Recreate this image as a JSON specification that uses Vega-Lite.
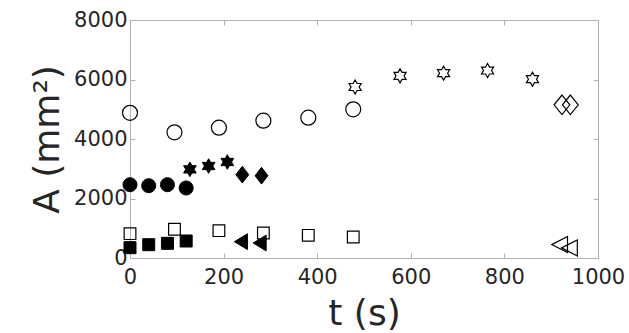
{
  "$schema": "https://vega.github.io/schema/vega-lite/v6.json",
  "width": 468,
  "height": 238,
  "autosize": "none",
  "padding": {"left": 130, "top": 20, "right": 31, "bottom": 75},
  "background": "white",
  "config": {
    "view": {"stroke": null},
    "font": "DejaVu Sans",
    "axis": {
      "grid": false,
      "domainColor": "#b0b0b0",
      "tickColor": "#b0b0b0",
      "tickSize": -5,
      "labelFlush": false,
      "labelOverlap": false,
      "labelColor": "#262626",
      "labelFontSize": 21,
      "labelFont": "DejaVu Sans",
      "titleColor": "#262626",
      "titleFont": "DejaVu Sans",
      "titleFontSize": 36,
      "titleFontWeight": "normal"
    }
  },
  "data": {
    "values": [
      {"t": 0, "A": 4880, "shape": "circle", "fill": "open"},
      {"t": 95, "A": 4225, "shape": "circle", "fill": "open"},
      {"t": 190, "A": 4380, "shape": "circle", "fill": "open"},
      {"t": 285, "A": 4615, "shape": "circle", "fill": "open"},
      {"t": 381, "A": 4717, "shape": "circle", "fill": "open"},
      {"t": 477, "A": 4997, "shape": "circle", "fill": "open"},
      {"t": 481, "A": 5748, "shape": "hexagram", "fill": "open"},
      {"t": 577, "A": 6123, "shape": "hexagram", "fill": "open"},
      {"t": 670, "A": 6212, "shape": "hexagram", "fill": "open"},
      {"t": 764, "A": 6302, "shape": "hexagram", "fill": "open"},
      {"t": 860, "A": 6010, "shape": "hexagram", "fill": "open"},
      {"t": 923, "A": 5150, "shape": "diamond", "fill": "open"},
      {"t": 941, "A": 5150, "shape": "diamond", "fill": "open"},
      {"t": 918, "A": 450, "shape": "triangle", "fill": "open"},
      {"t": 939, "A": 340, "shape": "triangle", "fill": "open"},
      {"t": 0, "A": 818, "shape": "square", "fill": "open"},
      {"t": 95, "A": 964, "shape": "square", "fill": "open"},
      {"t": 190, "A": 919, "shape": "square", "fill": "open"},
      {"t": 285, "A": 840, "shape": "square", "fill": "open"},
      {"t": 381, "A": 762, "shape": "square", "fill": "open"},
      {"t": 477, "A": 706, "shape": "square", "fill": "open"},
      {"t": 0, "A": 2465, "shape": "circle", "fill": "filled"},
      {"t": 40, "A": 2431, "shape": "circle", "fill": "filled"},
      {"t": 80, "A": 2465, "shape": "circle", "fill": "filled"},
      {"t": 120, "A": 2353, "shape": "circle", "fill": "filled"},
      {"t": 128, "A": 2980, "shape": "hexagram", "fill": "filled"},
      {"t": 168, "A": 3092, "shape": "hexagram", "fill": "filled"},
      {"t": 208, "A": 3227, "shape": "hexagram", "fill": "filled"},
      {"t": 240, "A": 2801, "shape": "diamond", "fill": "filled"},
      {"t": 281, "A": 2767, "shape": "diamond", "fill": "filled"},
      {"t": 0, "A": 347, "shape": "square", "fill": "filled"},
      {"t": 40, "A": 448, "shape": "square", "fill": "filled"},
      {"t": 80, "A": 493, "shape": "square", "fill": "filled"},
      {"t": 120, "A": 571, "shape": "square", "fill": "filled"},
      {"t": 237, "A": 549, "shape": "triangle", "fill": "filled"},
      {"t": 277, "A": 504, "shape": "triangle", "fill": "filled"}
    ]
  },
  "layer": [
    {
      "transform": [{"filter": "datum.fill === 'filled'"}],
      "mark": {"type": "point", "filled": true, "color": "black", "stroke": "black", "strokeWidth": 1, "opacity": 1, "size": 225, "clip": false},
      "encoding": {
        "x": {"field": "t", "type": "quantitative", "scale": {"domain": [0, 1000], "nice": false, "zero": false},
              "axis": {"orient": "bottom", "values": [0, 200, 400, 600, 800, 1000], "format": "d", "title": "t (s)", "labelPadding": 13, "titlePadding": 9}},
        "y": {"field": "A", "type": "quantitative", "scale": {"domain": [0, 8000], "nice": false, "zero": false},
              "axis": {"orient": "left", "values": [0, 2000, 4000, 6000, 8000], "format": "d", "title": "A (mm²)", "labelPadding": 8, "titlePadding": 7}},
        "shape": {"field": "shape", "type": "nominal", "legend": null,
                  "scale": {"domain": ["circle", "square", "hexagram", "diamond", "triangle"],
                            "range": ["M-0.93,0A0.93,0.93 0 1,0 0.93,0A0.93,0.93 0 1,0 -0.93,0Z",
                                      "M-0.8,-0.8L0.8,-0.8L0.8,0.8L-0.8,0.8Z",
                                      "M0,-0.97L0.28,-0.485L0.84,-0.485L0.56,0L0.84,0.485L0.28,0.485L0,0.97L-0.28,0.485L-0.84,0.485L-0.56,0L-0.84,-0.485L-0.28,-0.485Z",
                                      "M0,-1.12L0.86,0L0,1.12L-0.86,0Z",
                                      "M-0.87,0L0.87,-1.05L0.87,1.05Z"]}}
      }
    },
    {
      "transform": [{"filter": "datum.fill === 'open'"}],
      "mark": {"type": "point", "filled": false, "color": "black", "stroke": "black", "strokeWidth": 1.2, "opacity": 1, "size": 225, "clip": false},
      "encoding": {
        "x": {"field": "t", "type": "quantitative", "scale": {"domain": [0, 1000], "nice": false, "zero": false},
              "axis": {"orient": "top", "values": [0, 200, 400, 600, 800, 1000], "labels": false, "title": null}},
        "y": {"field": "A", "type": "quantitative", "scale": {"domain": [0, 8000], "nice": false, "zero": false},
              "axis": {"orient": "right", "values": [0, 2000, 4000, 6000, 8000], "labels": false, "title": null}},
        "shape": {"field": "shape", "type": "nominal", "legend": null,
                  "scale": {"domain": ["circle", "square", "hexagram", "diamond", "triangle"],
                            "range": ["M-1,0A1,1 0 1,0 1,0A1,1 0 1,0 -1,0Z",
                                      "M-0.78,-0.78L0.78,-0.78L0.78,0.78L-0.78,0.78Z",
                                      "M0,-0.93L0.268,-0.465L0.805,-0.465L0.537,0L0.805,0.465L0.268,0.465L0,0.93L-0.268,0.465L-0.805,0.465L-0.537,0L-0.805,-0.465L-0.268,-0.465Z",
                                      "M0,-1.3L1.05,0L0,1.3L-1.05,0Z",
                                      "M-1.05,0L1.05,-1.07L1.05,1.07Z"]}}
      }
    }
  ],
  "resolve": {"scale": {"shape": "independent"}, "axis": {"x": "independent", "y": "independent"}}
}
